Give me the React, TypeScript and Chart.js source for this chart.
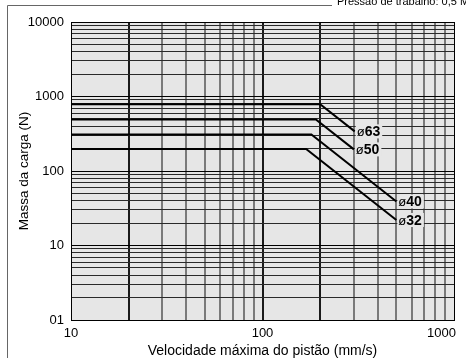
import React, { useEffect, useRef } from "react";
import { Chart, registerables } from "chart.js";

Chart.register(...registerables);

// ---- data ----
const boreNumbers = ["63", "50", "40", "32"];
const maxLoad = [790, 490, 310, 197]; // N, flat part
const kneeSpeed = [200, 190, 180, 169]; // mm/s, where load starts to drop
const endSpeed = [303, 300, 500, 500]; // mm/s, end of curve
const endLoad = [340, 195, 39, 22]; // N, at end of curve

const xGrid = [10, 20, 30, 40, 50, 60, 70, 80, 90, 100, 200, 300, 400, 500, 600, 700, 800, 900, 1000];
const xMajor = [20, 100, 200];
const xEdge = [10, 1000];
const yGrid = [
  1, 2, 3, 4, 5, 6, 7, 8, 9,
  10, 20, 30, 40, 50, 60, 70, 80, 90,
  100, 200, 300, 400, 500, 600, 700, 800, 900,
  1000, 2000, 3000, 4000, 5000, 6000, 7000, 8000, 9000,
  10000,
];
const yMajor = [1, 10, 100, 1000, 10000];
const xLabelTicks = [10, 100, 1000];
const xLabelText = ["10", "100", "1000"];
const yLabelTicks = [1, 10, 100, 1000, 10000];
const yLabelText = ["01", "10", "100", "1000", "10000"];
const xAxisTitle = "Velocidade máxima do pistão (mm/s)";
const yAxisTitle = "Massa da carga (N)";
const pressureNote = "Pressão de trabalho: 0,5 MPa";

const FONT = "'Liberation Sans', Arial, Helvetica, sans-serif";
const PLOT_BG = "#e6e6e6";

export default function App() {
  const ref = useRef<HTMLCanvasElement | null>(null);

  useEffect(() => {
    document.body.style.margin = "0";
    const canvas = ref.current;
    if (!canvas) return;

    const datasets = boreNumbers.map((b, i) => ({
      label: "ø" + b,
      data: [
        { x: 10, y: maxLoad[i] },
        { x: kneeSpeed[i], y: maxLoad[i] },
        { x: endSpeed[i], y: endLoad[i] },
      ],
      borderColor: "#000",
      borderWidth: 2,
      pointRadius: 0,
      tension: 0,
      fill: false,
    }));

    const decor = {
      id: "decor",
      beforeDraw(chart: any) {
        const { ctx, chartArea: a } = chart;
        ctx.save();
        ctx.fillStyle = "#fff";
        ctx.fillRect(0, 0, chart.width, chart.height);
        ctx.fillStyle = PLOT_BG;
        ctx.fillRect(a.left, a.top, a.right - a.left, a.bottom - a.top);
        ctx.restore();
      },
      afterDraw(chart: any) {
        const { ctx } = chart;
        const xs = chart.scales.x;
        const ys = chart.scales.y;
        ctx.save();
        // outer frame (partially visible)
        ctx.strokeStyle = "#666";
        ctx.lineWidth = 1;
        ctx.beginPath();
        ctx.moveTo(7.5, 358);
        ctx.lineTo(7.5, 5.5);
        ctx.lineTo(332, 5.5);
        ctx.stroke();

        // pressure note (cut at top)
        ctx.fillStyle = "#000";
        ctx.font = `11px ${FONT}`;
        ctx.textAlign = "left";
        ctx.textBaseline = "alphabetic";
        ctx.fillText(pressureNote, 337, 5);

        // x tick labels
        ctx.font = `13px ${FONT}`;
        xLabelTicks.forEach((v, i) => {
          const px = xs.getPixelForValue(v);
          const last = i === xLabelTicks.length - 1;
          ctx.textAlign = last ? "right" : "center";
          ctx.fillText(xLabelText[i], last ? px + 2 : px, 337);
        });

        // axis titles
        ctx.font = `14px ${FONT}`;
        ctx.textAlign = "center";
        ctx.fillText(xAxisTitle, (xs.left + xs.right) / 2, 355);
        ctx.save();
        ctx.translate(28, (ys.top + ys.bottom) / 2);
        ctx.rotate(-Math.PI / 2);
        ctx.font = `13.5px ${FONT}`;
        ctx.fillText(yAxisTitle, 0, 0);
        ctx.restore();

        // bore labels
        boreNumbers.forEach((b, i) => {
          const px = xs.getPixelForValue(endSpeed[i]);
          const py = ys.getPixelForValue(endLoad[i]);
          ctx.font = `13px ${FONT}`;
          const wPhi = ctx.measureText("ø").width;
          ctx.font = `bold 14px ${FONT}`;
          const wNum = ctx.measureText(b).width;
          ctx.fillStyle = PLOT_BG;
          ctx.fillRect(px + 1, py - 7, wPhi + wNum + 3, 14);
          ctx.fillStyle = "#000";
          ctx.textAlign = "left";
          ctx.textBaseline = "middle";
          ctx.font = `13px ${FONT}`;
          ctx.fillText("ø", px + 2, py + 1);
          ctx.font = `bold 14px ${FONT}`;
          ctx.fillText(b, px + 2 + wPhi, py + 1);
        });
        ctx.restore();
      },
    };

    const chart = new Chart(canvas, {
      type: "line",
      data: { datasets },
      plugins: [decor],
      options: {
        responsive: false,
        animation: false,
        devicePixelRatio: 1,
        layout: { padding: { left: 0, top: 22, right: 12, bottom: 0 } },
        plugins: { legend: { display: false }, tooltip: { enabled: false }, title: { display: false } },
        scales: {
          x: {
            type: "logarithmic",
            min: 10,
            max: 1000,
            afterBuildTicks: (s: any) => {
              s.ticks = xGrid.map((v) => ({ value: v }));
            },
            afterFit: (s: any) => {
              s.height = 38;
              s.paddingLeft = 0;
              s.paddingRight = 0;
            },
            ticks: { display: false, autoSkip: false },
            grid: {
              drawTicks: false,
              lineWidth: (c: any) => (c.tick && xEdge.includes(c.tick.value) ? 1 : 2),
              color: (c: any) => {
                const v = c.tick && c.tick.value;
                if (xEdge.includes(v)) return "#000";
                return xMajor.includes(v) ? "#1a1a1a" : "#7a7a7a";
              },
            },
            border: { display: true, color: "#000" },
          },
          y: {
            type: "logarithmic",
            min: 1,
            max: 10000,
            afterBuildTicks: (s: any) => {
              s.ticks = yGrid.map((v) => ({ value: v }));
            },
            afterFit: (s: any) => {
              s.width = 71;
              s.paddingTop = 0;
              s.paddingBottom = 0;
            },
            ticks: {
              autoSkip: false,
              padding: 7,
              color: "#000",
              font: { family: FONT, size: 13 },
              callback: (v: any) => {
                const i = yLabelTicks.indexOf(Number(v));
                return i >= 0 ? yLabelText[i] : "";
              },
            },
            grid: {
              drawTicks: false,
              lineWidth: 1,
              color: (c: any) => (c.tick && yMajor.includes(c.tick.value) ? "#000" : "#2a2a2a"),
            },
            border: { display: true, color: "#000" },
          },
        },
      },
    } as any);

    return () => chart.destroy();
  }, []);

  return <canvas ref={ref} width={466} height={358} style={{ display: "block" }} />;
}
